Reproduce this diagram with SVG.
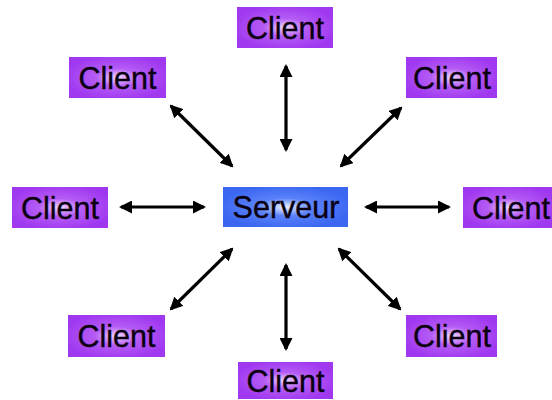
<svg xmlns="http://www.w3.org/2000/svg" width="552" height="400" viewBox="0 0 552 400">
<defs>
<radialGradient id="gp" cx="50%" cy="50%" r="55%">
<stop offset="0" stop-color="#f0d8ff"/>
<stop offset="0.4" stop-color="#b55cf5"/>
<stop offset="1" stop-color="#a038f0"/>
</radialGradient>
<radialGradient id="gb" cx="50%" cy="50%" r="55%">
<stop offset="0" stop-color="#eef2ff"/>
<stop offset="0.4" stop-color="#5b82fb"/>
<stop offset="1" stop-color="#3a66f0"/>
</radialGradient>
<marker id="ah" markerUnits="userSpaceOnUse" markerWidth="13" markerHeight="13" refX="11" refY="6.5" orient="auto-start-reverse" viewBox="0 0 13 13">
<path d="M0,0 L13,6.5 L0,13 Z" fill="#000"/>
</marker>
</defs>
<style>
.c{fill:url(#gp)}
.s{fill:url(#gb)}
.t{font-family:"Liberation Sans",Arial,sans-serif;font-size:30.5px;fill:#0a0010;stroke:#0a0010;stroke-width:0.4;text-anchor:middle}
.a{stroke:#000;stroke-width:3.2;fill:none;marker-start:url(#ah);marker-end:url(#ah)}
</style>
<rect width="552" height="400" fill="#fff"/>
<g id="connectors">
<line class="a" x1="286" y1="66" x2="286" y2="150"/>
<line class="a" x1="286" y1="265" x2="286" y2="349"/>
<line class="a" x1="121" y1="207" x2="204" y2="207"/>
<line class="a" x1="366" y1="207" x2="449" y2="207"/>
<line class="a" x1="171" y1="106" x2="232" y2="166"/>
<line class="a" x1="401" y1="108" x2="341" y2="166"/>
<line class="a" x1="232" y1="249" x2="171" y2="309"/>
<line class="a" x1="339" y1="249" x2="400" y2="309"/>
</g>
<g id="server">
<rect class="s" x="223" y="187" width="125" height="40"/>
<text class="t" x="286" y="218" font-size="31">Serveur</text>
</g>
<g id="client-top">
<rect class="c" x="237" y="7" width="96" height="41"/>
<text class="t" x="285" y="38.5">Client</text>
</g>
<g id="client-top-left">
<rect class="c" x="69" y="57" width="97" height="41"/>
<text class="t" x="117.5" y="88.5">Client</text>
</g>
<g id="client-top-right">
<rect class="c" x="406" y="57" width="91" height="41"/>
<text class="t" x="452" y="88.5">Client</text>
</g>
<g id="client-left">
<rect class="c" x="12" y="187" width="96" height="41"/>
<text class="t" x="60" y="218.5">Client</text>
</g>
<g id="client-right">
<rect class="c" x="463" y="187" width="89" height="41"/>
<text class="t" x="472" y="218.5" style="text-anchor:start">Client</text>
</g>
<g id="client-bottom-left">
<rect class="c" x="68" y="315" width="97" height="42"/>
<text class="t" x="116.5" y="346.5">Client</text>
</g>
<g id="client-bottom-right">
<rect class="c" x="406" y="315" width="91" height="42"/>
<text class="t" x="452" y="346.5">Client</text>
</g>
<g id="client-bottom">
<rect class="c" x="238" y="362" width="95" height="37"/>
<text class="t" x="285.5" y="391.5">Client</text>
</g>
</svg>
